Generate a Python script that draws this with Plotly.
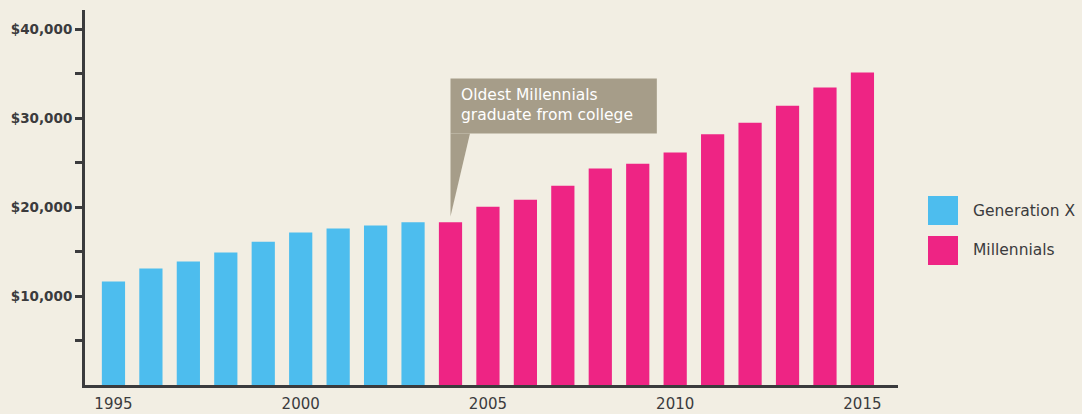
import plotly.graph_objects as go

# Data
genx_years = [1995, 1996, 1997, 1998, 1999, 2000, 2001, 2002, 2003]
genx_values = [11650, 13100, 13900, 14900, 16100, 17150, 17600, 17950, 18300]
mill_years = [2004, 2005, 2006, 2007, 2008, 2009, 2010, 2011, 2012, 2013, 2014, 2015]
mill_values = [18300, 20050, 20850, 22400, 24350, 24900, 26150, 28200, 29500, 31400, 33450, 35150]
x_tick_vals = [1995, 2000, 2005, 2010, 2015]
y_tick_vals = [5000, 10000, 15000, 20000, 25000, 30000, 35000, 40000]
y_tick_text = ["", "$10,000", "", "$20,000", "", "$30,000", "", "$40,000"]
series_names = ["Generation X", "Millennials"]
callout_text = "Oldest Millennials<br>graduate from college"

BG = "#f2eee3"
BLUE = "#4dbdee"
PINK = "#ee2484"
DARK = "#3b3b3d"
CALLOUT = "#a69d89"
FONT = "DejaVu Sans"

fig = go.Figure()
fig.add_trace(go.Bar(x=genx_years, y=genx_values, name=series_names[0],
                     marker=dict(color=BLUE, line=dict(width=0)), width=0.62,
                     showlegend=False))
fig.add_trace(go.Bar(x=mill_years, y=mill_values, name=series_names[1],
                     marker=dict(color=PINK, line=dict(width=0)), width=0.62,
                     showlegend=False))

shapes = []
# Callout box and pointer (data coordinates)
shapes.append(dict(type="rect", xref="x", yref="y", x0=2004.0, x1=2009.51,
                   y0=28290, y1=34480, fillcolor=CALLOUT, line=dict(width=0), layer="above"))
shapes.append(dict(type="path", xref="x", yref="y",
                   path="M 2004.0,28300 L 2004.52,28300 L 2004.0,18950 Z",
                   fillcolor=CALLOUT, line=dict(width=0), layer="above"))
# Custom legend swatches
shapes.append(dict(type="rect", xref="paper", yref="paper", x0=1.0369, x1=1.0738,
                   y0=0.4267, y1=0.504, fillcolor=BLUE, line=dict(width=0)))
shapes.append(dict(type="rect", xref="paper", yref="paper", x0=1.0369, x1=1.0738,
                   y0=0.32, y1=0.3973, fillcolor=PINK, line=dict(width=0)))

annotations = [
    dict(x=2004.22, y=31500, xref="x", yref="y", text=callout_text, showarrow=False,
         xanchor="left", yanchor="middle", align="left",
         font=dict(family=FONT, size=15.5, color="white")),
    dict(x=1.0898, y=0.4653, xref="paper", yref="paper", text=series_names[0],
         showarrow=False, xanchor="left", yanchor="middle",
         font=dict(family=FONT, size=15.5, color=DARK)),
    dict(x=1.0898, y=0.3587, xref="paper", yref="paper", text=series_names[1],
         showarrow=False, xanchor="left", yanchor="middle",
         font=dict(family=FONT, size=15.5, color=DARK)),
]

fig.update_layout(
    width=1082, height=414,
    margin=dict(l=85, r=184, t=10, b=29),
    paper_bgcolor=BG, plot_bgcolor=BG,
    barmode="overlay",
    shapes=shapes, annotations=annotations,
    font=dict(family=FONT, color=DARK),
)
fig.update_xaxes(range=[1994.24, 2015.95], tickvals=x_tick_vals, showgrid=False,
                 zeroline=False, showline=True, linecolor=DARK, linewidth=3,
                 ticks="", automargin=False, ticklabelstandoff=3,
                 tickfont=dict(family=FONT, size=15, color=DARK))
fig.update_yaxes(range=[0, 42180], tickvals=y_tick_vals, ticktext=y_tick_text,
                 showgrid=False, zeroline=False, showline=True, linecolor=DARK,
                 linewidth=3, ticks="outside", ticklen=7, tickwidth=3, tickcolor=DARK,
                 automargin=False,
                 tickfont=dict(family=FONT, size=13.5, color=DARK, weight="bold"))

fig.write_html("out.html", config={"displayModeBar": False}, post_script=(
    "document.body.style.margin='0';"
    "document.body.style.background='" + BG + "';"
))
